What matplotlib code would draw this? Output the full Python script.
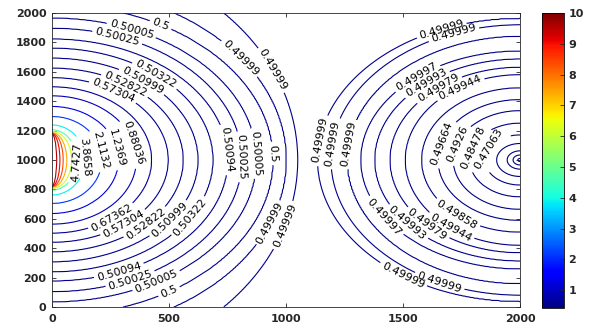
import numpy as np
import matplotlib
matplotlib.use("Agg")
import matplotlib.pyplot as plt
from matplotlib.colors import Normalize
from matplotlib.cm import ScalarMappable

plt.rcParams['font.family'] = ['DejaVu Sans']

# ---- data ----
# left (source) family: contour value, centre-line crossing x, half height at left edge
left_levels = [10.0, 9.6, 9.1, 8.4, 7.4, 6.2, 4.7427, 3.8658, 2.1132, 1.2369, 0.88036,
               0.67362, 0.57304, 0.52822, 0.50999, 0.50322, 0.50094, 0.50025, 0.50005,
               0.5, 0.499994, 0.499993]
left_x = [0, 20, 34, 48, 63, 84, 105, 140, 212, 283, 360, 425, 496, 560, 623, 687,
          750, 810, 872, 943, 1000, 1050]
left_dy = [175, 176, 178, 181, 186, 194, 204, 238, 295, 363, 436, 497, 559, 624, 692,
           760, 822, 895, 964, 1055, 1170, 1400]

# right (sink) family: contour value, centre-line distance from x=2000, half height
right_levels = [0.499991, 0.499989, 0.499987, 0.49997, 0.49993, 0.49979, 0.49944,
                0.49858, 0.49664, 0.4926, 0.48478, 0.47063, 0.455, 0.44, 0.43, 0.4225, 0.42]
right_dist = [865, 808, 737, 680, 620, 555, 490, 420, 350, 285, 215, 150, 100, 55, 30, 10, 0]
right_dy = [965, 920, 840, 740, 686, 630, 580, 490, 410, 335, 250, 170, 112, 62, 34, 11, 0]

# labels: value and where they sit
label_levels = [0.50005, 0.50005, 0.50005, 0.5, 0.5, 0.5, 0.50025, 0.50025, 0.50025,
                0.50322, 0.50322, 0.50999, 0.50999, 0.52822, 0.52822, 0.57304, 0.57304,
                0.67362, 0.88036, 1.2369, 2.1132, 3.8658, 4.7427, 0.50094, 0.50094,
                0.499994, 0.499994, 0.499993, 0.499993,
                0.499991, 0.499991, 0.499991, 0.499989, 0.499989, 0.499989, 0.499987,
                0.49997, 0.49997, 0.49993, 0.49993, 0.49979, 0.49979, 0.49944, 0.49944,
                0.49858, 0.49664, 0.4926, 0.48478, 0.47063]
label_pos = [(341, 1896), (868, 1045), (440, 206), (459, 1903), (946, 1045), (490, 138),
             (276, 1821), (803, 1022), (333, 195), (440, 1578), (582, 626), (383, 1533),
             (504, 592), (312, 1510), (405, 558), (262, 1471), (305, 569), (248, 626),
             (348, 1114), (276, 1080), (212, 1068), (148, 1022), (105, 985), (729, 1068),
             (283, 263), (789, 1658), (917, 580), (917, 1585), (1003, 546),
             (1138, 1136), (1665, 1884), (1501, 218), (1195, 1114), (1715, 1869),
             (1665, 218), (1266, 1114), (1558, 1567), (1430, 626), (1601, 1522),
             (1516, 569), (1651, 1488), (1601, 558), (1744, 1488), (1701, 535),
             (1729, 626), (1665, 1114), (1722, 1114), (1793, 1091), (1865, 1080)]

# ---- build the field so each level follows its read-off ellipse ----
xmax, ymid, split = 2000.0, 1000.0, 1090.0
xs = np.linspace(0, 2000, 401)
ys = np.linspace(0, 2000, 401)
X, Y = np.meshgrid(xs, ys)
DY = np.abs(Y - ymid)
lx, ldy = np.array(left_x, float), np.array(left_dy, float)
rd, rdy = np.array(right_dist, float)[::-1], np.array(right_dy, float)[::-1]


def g_left(p):
    return (X / p) ** 2 + (DY / np.interp(p, lx, ldy)) ** 2


def g_right(q):
    a = np.maximum(np.interp(q, rd, rdy), 1e-9)
    return ((xmax - X) / q) ** 2 + (DY / a) ** 2


def solve(g, hi):
    lo_a = np.full(X.shape, 1e-6)
    hi_a = np.full(X.shape, hi)
    for _ in range(55):
        mid = 0.5 * (lo_a + hi_a)
        out = g(mid) > 1
        lo_a = np.where(out, mid, lo_a)
        hi_a = np.where(out, hi_a, mid)
    return 0.5 * (lo_a + hi_a)


with np.errstate(divide='ignore', invalid='ignore'):
    pL = solve(g_left, split)
    inL = g_left(np.full(X.shape, split)) <= 1
    qR = solve(g_right, xmax - split)
    inR = np.nan_to_num(g_right(np.full(X.shape, xmax - split)), nan=0.0) <= 1
P = np.where(inL, pL, np.where(inR, xmax - qR, split))
P_all = np.array(left_x + [xmax - d for d in right_dist], float)
V_all = np.array(left_levels + right_levels, float)
Z = np.interp(P, P_all, V_all)

levels = sorted(left_levels[1:] + right_levels[:-1])

# ---- draw ----
fig = plt.figure(figsize=(5.91, 3.24), dpi=100)
ax = fig.add_axes([0.088, 0.0525, 0.792, 0.9075])
norm = Normalize(0.42, 10)


def fmt(v):
    return f"{v:.5g}"


labelled = set(label_levels)
plain = [lv for lv in levels if lv not in labelled]
ax.contour(X, Y, Z, levels=plain, cmap='jet', norm=norm, linewidths=0.8)
for lv in levels:
    if lv not in labelled:
        continue
    cs = ax.contour(X, Y, Z, levels=[lv], cmap='jet', norm=norm, linewidths=0.8)
    pts = [p for l, p in zip(label_levels, label_pos) if l == lv]
    cs.clabel(manual=pts, fmt=fmt, fontsize=8, colors='k', inline=True,
              inline_spacing=3)

ax.set_xlim(0, 2000)
ax.set_ylim(0, 2000)
ax.set_xticks([0, 500, 1000, 1500, 2000])
ax.set_yticks(np.arange(0, 2001, 200))
ax.tick_params(direction='in', top=True, right=True, length=3, width=0.6,
               colors='#262626', labelsize=8)
ax.tick_params(axis='x', pad=5)
ax.tick_params(axis='y', pad=4)
for t in ax.get_xticklabels() + ax.get_yticklabels():
    t.set_fontweight('bold')
for s in ax.spines.values():
    s.set_linewidth(0.6)
    s.set_color('#262626')

cax = fig.add_axes([0.9166, 0.049, 0.0372, 0.911])
sm = ScalarMappable(norm=norm, cmap='jet')
cb = fig.colorbar(sm, cax=cax, ticks=range(1, 11))
cax.tick_params(direction='in', length=3, width=0.6, colors='#262626', labelsize=8)
for t in cax.get_yticklabels():
    t.set_fontweight('bold')
cb.outline.set_linewidth(0.6)

fig.savefig('out.png', dpi=100)
